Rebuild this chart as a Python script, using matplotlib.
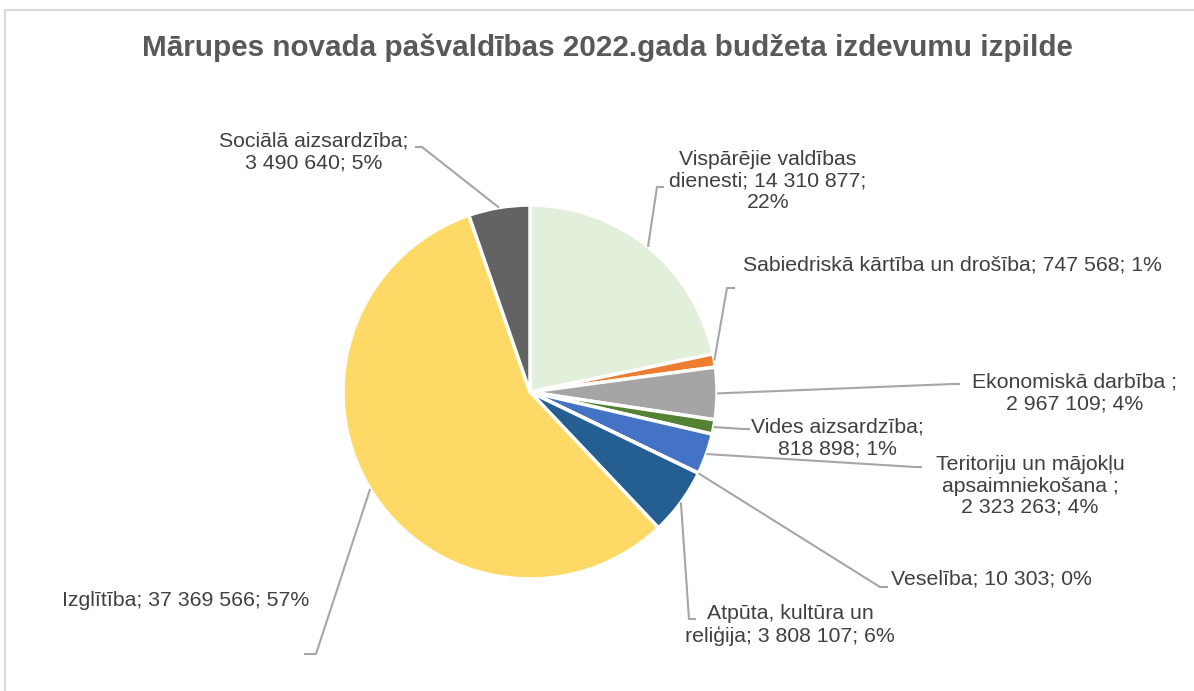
import numpy as np
import matplotlib.pyplot as plt

W, H = 1194, 691

categories = ['Vispārējie valdības\ndienesti', 'Sabiedriskā kārtība un drošība',
              'Ekonomiskā darbība ;\n', 'Vides aizsardzība;\n',
              'Teritoriju un mājokļu\napsaimniekošana ;\n', 'Veselība',
              'Atpūta, kultūra un\nreliģija', 'Izglītība', 'Sociālā aizsardzība;\n']
values = [14310877, 747568, 2967109, 818898, 2323263, 10303, 3808107, 37369566, 3490640]
percents = ['22%', '1%', '4%', '1%', '4%', '0%', '6%', '57%', '5%']
colors = ['#E2EFDA', '#ED7D31', '#A5A5A5', '#548235', '#4472C4',
          '#FFC000', '#255E91', '#FFD966', '#636363']

# label layout in image pixels: text x, text y, ha, leader path after the wedge point
layout = [
    (768, 181, 'center', [(657, 187), (664, 187)]),
    (743, 265, 'left', [(727, 288), (735, 288)]),
    (1075, 393, 'center', [(953, 384), (960, 384)]),
    (837, 438, 'center', [(743, 429), (750, 429)]),
    (1030, 486, 'center', [(915, 467), (922, 467)]),
    (891, 579, 'left', [(880, 587), (888, 587)]),
    (790, 625, 'center', [(689, 619), (696, 619)]),
    (186, 601, 'center', [(316, 654), (304, 654)]),
    (314, 152, 'center', [(422, 147), (415, 147)]),
]


def fmt(v):
    return f'{v:,}'.replace(',', ' ')


plt.rcParams['font.family'] = ['Liberation Sans', 'DejaVu Sans']

fig = plt.figure(figsize=(W / 100, H / 100), dpi=100)
ax = fig.add_axes([0, 0, 1, 1])

wedges, _ = ax.pie(values, colors=colors, startangle=90, counterclock=False,
                   center=(530, H - 392), radius=187,
                   wedgeprops=dict(edgecolor='white', linewidth=2.5))

# pie resets the limits, so set them afterwards
ax.set_xlim(0, W)
ax.set_ylim(0, H)
ax.set_aspect('equal')
ax.axis('off')

for w, name, v, pct, (tx, ty, ha, path) in zip(wedges, categories, values, percents, layout):
    mid = np.deg2rad((w.theta1 + w.theta2) / 2)
    x0 = w.center[0] + w.r * np.cos(mid)
    y0 = w.center[1] + w.r * np.sin(mid)
    xs = [x0] + [p[0] for p in path]
    ys = [y0] + [H - p[1] for p in path]
    ax.plot(xs, ys, color='#A6A6A6', lw=1.5, solid_capstyle='butt', zorder=1)
    if name == 'Vispārējie valdības\ndienesti':
        txt = f'{name}; {fmt(v)};\n{pct}'
    elif name.endswith('\n'):
        txt = f'{name}{fmt(v)}; {pct}'
    else:
        txt = f'{name}; {fmt(v)}; {pct}'
    ax.text(tx, H - ty, txt, ha=ha, va='center', multialignment='center',
            fontsize=15.3, color='#404040', linespacing=1.15)

ax.text(607, H - 48, 'Mārupes novada pašvaldības 2022.gada budžeta izdevumu izpilde',
        ha='center', va='center', fontsize=21.3, fontweight='bold', color='#595959')

# chart frame (left and top edges visible)
ax.plot([5, 5, W + 5], [0, H - 10, H - 10], color='#D9D9D9', lw=1.5, clip_on=False)

fig.savefig('out.png', dpi=100)
